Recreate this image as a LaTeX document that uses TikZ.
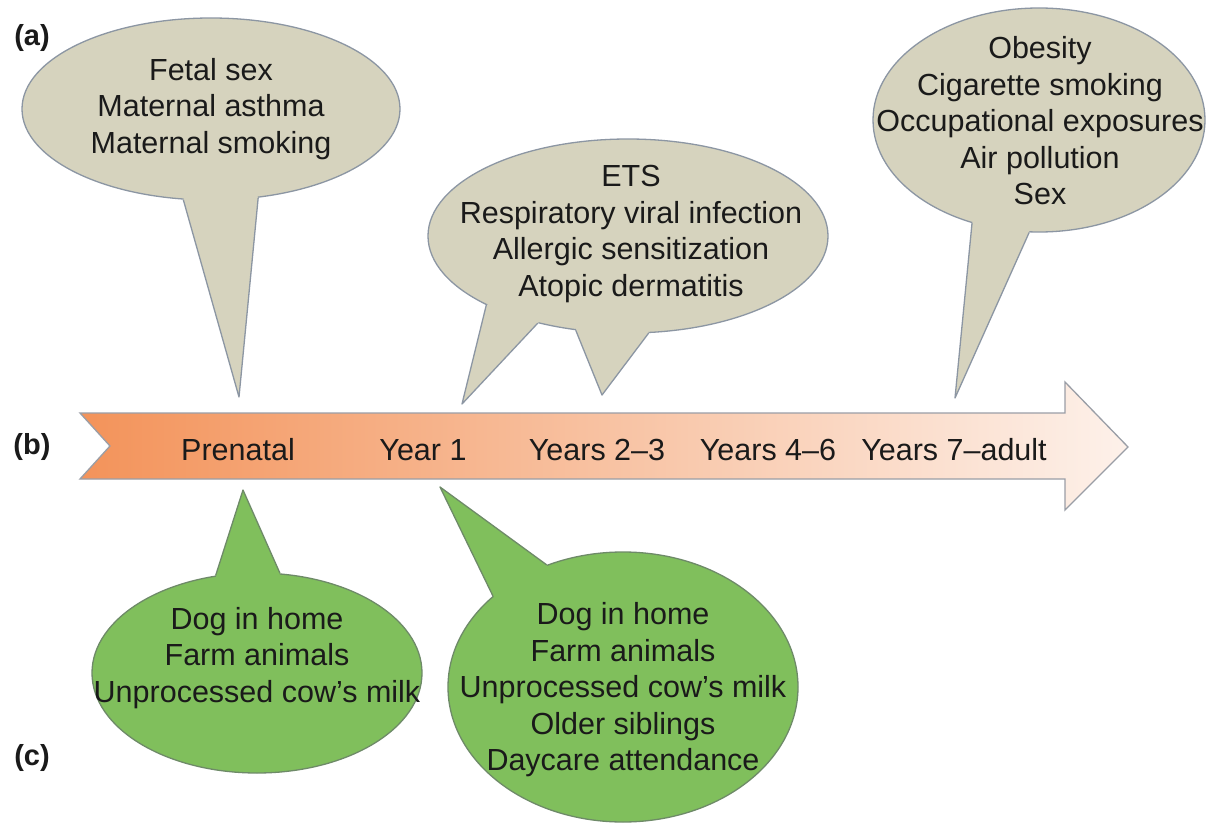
\documentclass[tikz,border=0pt]{standalone}
\usepackage{fontspec}
\setmainfont{Liberation Sans}
\usetikzlibrary{shapes.geometric}
\definecolor{grayfill}{HTML}{D6D3BE}
\definecolor{grayline}{HTML}{8C96A3}
\definecolor{greenfill}{HTML}{80BF5C}
\definecolor{greenline}{HTML}{6E8A68}
\definecolor{arrowL}{HTML}{F3935A}
\definecolor{arrowR}{HTML}{FDF1EA}
\definecolor{arrowline}{HTML}{9A9EA6}
\definecolor{txt}{HTML}{1A1A1A}
\begin{document}
\begin{tikzpicture}[x=1pt,y=-1pt,
  bubble/.style={ellipse, inner sep=0pt, line width=1.3pt},
  graybub/.style={bubble, fill=grayfill, draw=grayline},
  greenbub/.style={bubble, fill=greenfill, draw=greenline},
  grayedge/.style={draw=grayline, line width=1.3pt, line join=round},
  greenedge/.style={draw=greenline, line width=1.3pt, line join=round},
  bubtext/.style={align=center, text=txt, inner sep=0pt, font=\fontsize{30.5}{36.5}\selectfont},
  stage/.style={anchor=base, text=txt, inner sep=0pt, font=\fontsize{30.5}{36.5}\selectfont},
  panel/.style={text=txt, inner sep=0pt, font=\fontsize{29}{34}\selectfont\bfseries}]
\useasboundingbox (0,0) rectangle (1210,829);
\fill[white] (0,0) rectangle (1210,829);

% timeline arrow
\path[draw=arrowline, line width=1.3pt, line join=miter, left color=arrowL, right color=arrowR]
  (80,413) -- (1065,413) -- (1065,382) -- (1128,447) -- (1065,510) -- (1065,479) -- (80,479) -- (110,446) -- cycle;

% tail tips
\coordinate (tA) at (239,397);
\coordinate (tB1) at (462,404);
\coordinate (tB2) at (602,395);
\coordinate (tC) at (955,398);
\coordinate (tD) at (243,490);
\coordinate (tE) at (440,487);

% bubble (a): prenatal
\node[graybub, minimum width=378pt, minimum height=182pt] (A) at (211,109) {};
\fill[grayfill] (A.253) -- (tA) -- (A.298) -- (A.center) -- cycle;
\path[grayedge] (A.253) -- (tA) -- (A.298);

% bubble (a): year 1-3
\node[graybub, minimum width=400pt, minimum height=194pt] (B) at (628,236) {};
\fill[grayfill] (B.206) -- (tB1) -- (B.224) -- (B.center) -- cycle;
\fill[grayfill] (B.241) -- (tB2) -- (B.282) -- (B.center) -- cycle;
\path[grayedge] (B.206) -- (tB1) -- (B.224);
\path[grayedge] (B.241) -- (tB2) -- (B.282);

% bubble (a): later
\node[graybub, minimum width=332pt, minimum height=224pt] (C) at (1039,120) {};
\fill[grayfill] (C.237) -- (tC) -- (C.265) -- (C.center) -- cycle;
\path[grayedge] (C.237) -- (tC) -- (C.265);

% bubble (c): prenatal
\node[greenbub, minimum width=330pt, minimum height=200pt] (D) at (257,673) {};
\fill[greenfill] (D.113) -- (tD) -- (D.77) -- (D.center) -- cycle;
\path[greenedge] (D.113) -- (tD) -- (D.77);

% bubble (c): year 1
\node[greenbub, minimum width=350pt, minimum height=270pt] (E) at (623,687) {};
\fill[greenfill] (E.145) -- (tE) -- (E.122) -- (E.center) -- cycle;
\path[greenedge] (E.145) -- (tE) -- (E.122);

% bubble texts
\node[bubtext] (Atext) at (211,109) {Fetal sex\\Maternal asthma\\Maternal smoking};
\node[bubtext] (Btext) at (631,234) {ETS\\Respiratory viral infection\\Allergic sensitization\\Atopic dermatitis};
\node[bubtext] (Ctext) at (1040,121) {Obesity\\Cigarette smoking\\Occupational exposures\\Air pollution\\Sex};
\node[bubtext] (Dtext) at (257,658) {Dog in home\\Farm animals\\Unprocessed cow’s milk};
\node[bubtext] (Etext) at (623,690) {Dog in home\\Farm animals\\Unprocessed cow’s milk\\Older siblings\\Daycare attendance};

% stages
\node[stage] (s0) at (238,460) {Prenatal};
\node[stage] (s1) at (423,460) {Year 1};
\node[stage] (s2) at (597,460) {Years 2–3};
\node[stage] (s3) at (768,460) {Years 4–6};
\node[stage] (s4) at (954,460) {Years 7–adult};

% panel labels
\node[panel] (la) at (32,38) {(a)};
\node[panel] (lb) at (32,447) {(b)};
\node[panel] (lc) at (32,758) {(c)};
\end{tikzpicture}
\end{document}
